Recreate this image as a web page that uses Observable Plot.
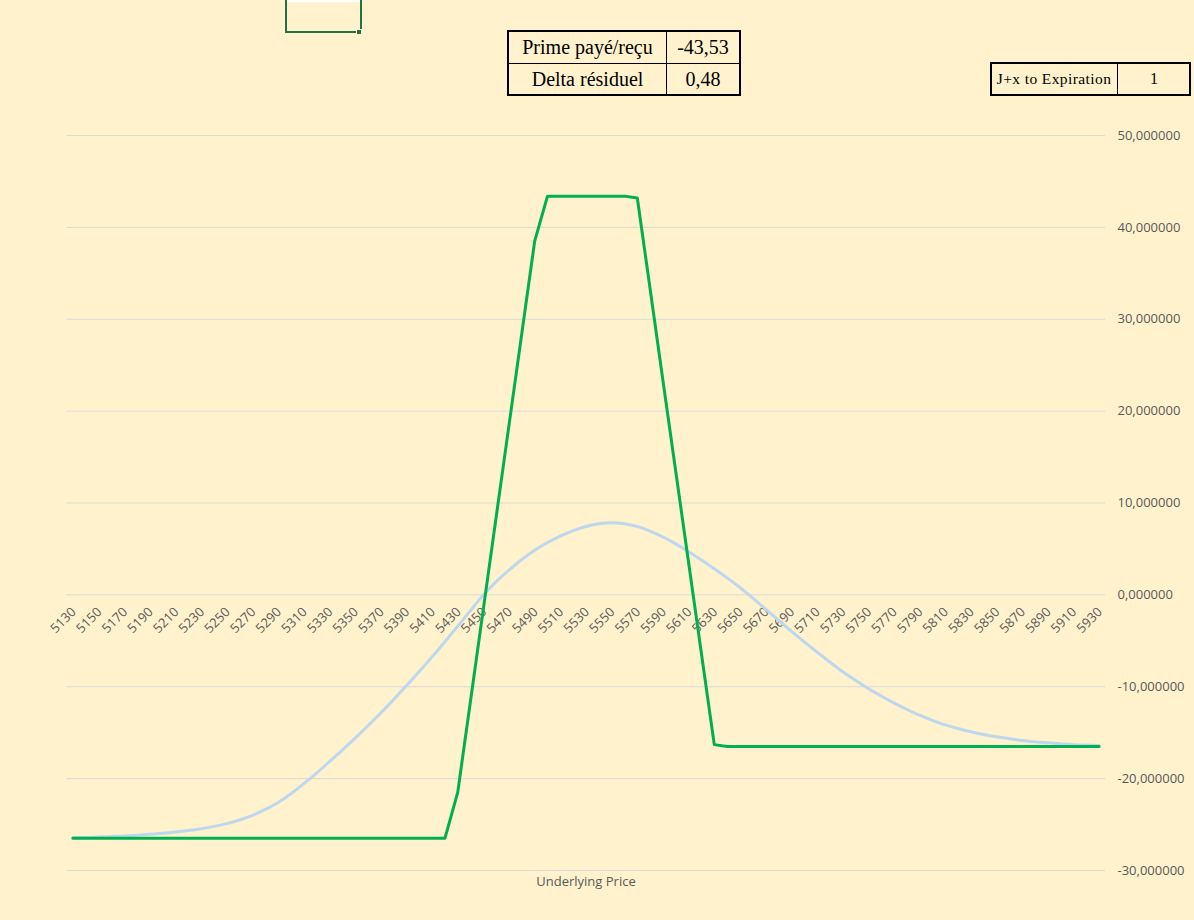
<!DOCTYPE html>
<html>
<head>
<meta charset="utf-8">
<script src="https://cdn.jsdelivr.net/npm/d3@7"></script>
<script src="https://cdn.jsdelivr.net/npm/@observablehq/plot@0.6"></script>
<style>
  html, body { margin: 0; padding: 0; background: #fff2cc; }
  #wrap { position: relative; width: 1194px; height: 920px; overflow: hidden; background: #fff2cc; }
  #chart { position: absolute; left: 0; top: 0; }
  .box { position: absolute; border: 2px solid #000; box-sizing: border-box; background: #fff2cc; }
  .cell { position: absolute; display: flex; align-items: center; justify-content: center;
          font-family: "Liberation Serif", "DejaVu Serif", serif; color: #000; white-space: nowrap; }
  .vline { position: absolute; width: 1px; background: #000; }
  .hline { position: absolute; height: 1px; background: #000; }
</style>
</head>
<body>
<div id="wrap">
  <div id="chart"></div>
</div>
<script>
// ---- data ----
const prices = d3.range(5130, 5931, 10);
const labelPrices = d3.range(5130, 5931, 20);
const yTicks = [-30, -20, -10, 0, 10, 20, 30, 40, 50];

// expiration P&L (green)
const pnlExpiry = [
  -26.5, -26.5, -26.5, -26.5, -26.5, -26.5, -26.5, -26.5, -26.5, -26.5, // 5130-5220
  -26.5, -26.5, -26.5, -26.5, -26.5, -26.5, -26.5, -26.5, -26.5, -26.5, // 5230-5320
  -26.5, -26.5, -26.5, -26.5, -26.5, -26.5, -26.5, -26.5, -26.5, -26.5, // 5330-5420
  -21.5, -11.5, -1.5, 8.5, 18.5, 28.5, 38.5, 43.4, 43.4, 43.4,           // 5430-5520
  43.4, 43.4, 43.4, 43.4, 43.2, 33.3, 23.3, 13.4, 3.5, -6.4,             // 5530-5620
  -16.3, -16.5, -16.5, -16.5, -16.5, -16.5, -16.5, -16.5, -16.5, -16.5,  // 5630-5720
  -16.5, -16.5, -16.5, -16.5, -16.5, -16.5, -16.5, -16.5, -16.5, -16.5,  // 5730-5820
  -16.5, -16.5, -16.5, -16.5, -16.5, -16.5, -16.5, -16.5, -16.5, -16.5,  // 5830-5920
  -16.5                                                                   // 5930
];

// current (J+x) P&L (light blue)
const pnlNow = [
  -26.4, -26.4, -26.35, -26.3, -26.25, -26.15, -26.05, -25.95, -25.8, -25.65, // 5130-5220
  -25.45, -25.2, -24.9, -24.5, -24.0, -23.35, -22.6, -21.65, -20.55, -19.4,   // 5230-5320
  -18.15, -16.9, -15.6, -14.25, -12.85, -11.4, -9.9, -8.35, -6.75, -5.1,      // 5330-5420
  -3.4, -1.7, 0.0, 1.45, 2.7, 3.85, 4.85, 5.7, 6.4, 7.0,                      // 5430-5520
  7.45, 7.75, 7.85, 7.75, 7.45, 6.95, 6.3, 5.55, 4.7, 3.8,                    // 5530-5620
  2.85, 1.85, 0.8, -0.35, -1.55, -2.75, -3.95, -5.1, -6.2, -7.3,              // 5630-5720
  -8.35, -9.3, -10.2, -11.0, -11.75, -12.45, -13.1, -13.65, -14.15, -14.55,   // 5730-5820
  -14.9, -15.2, -15.45, -15.65, -15.85, -16.0, -16.1, -16.2, -16.3, -16.35,   // 5830-5920
  -16.4                                                                        // 5930
];

const infoRows = [["Prime payé/reçu", "-43,53"], ["Delta résiduel", "0,48"]];
const expLabel = ["J+x to Expiration", "1"];

// ---- chart ----
const fmt = v => v.toFixed(6).replace(".", ",");
const rowsNow = prices.map((p, i) => ({p, v: pnlNow[i]}));
const rowsExp = prices.map((p, i) => ({p, v: pnlExpiry[i]}));

const chart = Plot.plot({
  width: 1194,
  height: 920,
  marginLeft: 66,
  marginRight: 89,
  marginTop: 135,
  marginBottom: 50,
  style: {background: "transparent", fontFamily: "'Open Sans', sans-serif"},
  x: {type: "point", domain: prices, padding: 0.5, axis: null},
  y: {domain: [-30, 50], axis: null},
  marks: [
    Plot.ruleY(yTicks, {stroke: "#d9d9d9", strokeWidth: 1}),
    Plot.text(yTicks, {y: d => d, text: d => fmt(d), frameAnchor: "right", dx: 12,
      textAnchor: "start", fill: "#595959", fontSize: 13}),
    Plot.text(labelPrices, {x: d => d, y: () => 0, text: d => String(d), rotate: -45,
      textAnchor: "end", dx: 1, dy: 15, fill: "#595959", fontSize: 13}),
    Plot.lineY(rowsNow, {x: "p", y: "v", stroke: "#bdd7ee", strokeWidth: 3, curve: "monotone-x"}),
    Plot.lineY(rowsExp, {x: "p", y: "v", stroke: "#00b050", strokeWidth: 3, strokeLinejoin: "round"}),
    Plot.text(["Underlying Price"], {frameAnchor: "bottom", dy: 15, text: d => d,
      fill: "#595959", fontSize: 13})
  ]
});
document.getElementById("chart").appendChild(chart);

// ---- overlays (spreadsheet cells above the chart) ----
const wrap = document.getElementById("wrap");
function el(cls, css, text) {
  const d = document.createElement("div");
  d.className = cls;
  Object.assign(d.style, css);
  if (text !== undefined) d.textContent = text;
  wrap.appendChild(d);
  return d;
}
// selected cell
el("", {position: "absolute", left: "286px", top: "0px", width: "74px", height: "2px", background: "#ffffff"});
el("", {position: "absolute", left: "285px", top: "-2px", width: "77px", height: "35px",
  border: "2px solid #217346", boxSizing: "border-box"});
el("", {position: "absolute", left: "356px", top: "29px", width: "6px", height: "6px",
  background: "#217346", border: "1px solid #fff2cc", boxSizing: "border-box"});

// info table
el("box", {left: "507px", top: "30px", width: "234px", height: "66px"});
el("vline", {left: "666px", top: "31px", height: "64px"});
el("hline", {left: "508px", top: "63px", width: "232px"});
infoRows.forEach((r, i) => {
  el("cell", {left: "509px", top: (32 + i * 32) + "px", width: "157px", height: "31px", fontSize: "20px"}, r[0]);
  el("cell", {left: "667px", top: (32 + i * 32) + "px", width: "72px", height: "31px", fontSize: "20px"}, r[1]);
});

// expiration table
el("box", {left: "990px", top: "62px", width: "201px", height: "34px"});
el("vline", {left: "1117px", top: "63px", height: "32px"});
el("cell", {left: "991px", top: "63px", width: "126px", height: "32px", fontSize: "15.5px", letterSpacing: "0.4px"}, expLabel[0]);
el("cell", {left: "1118px", top: "63px", width: "72px", height: "32px", fontSize: "16px"}, expLabel[1]);
</script>
</body>
</html>
